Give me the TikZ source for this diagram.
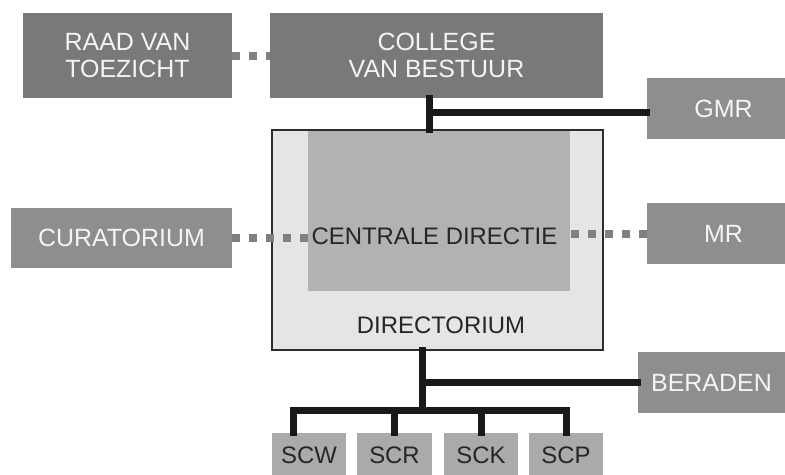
\documentclass[tikz,border=0pt]{standalone}
\usepackage{fontspec}
\setmainfont{Liberation Sans}
\definecolor{darkgrey}{RGB}{121,121,121}
\definecolor{midgrey}{RGB}{142,142,142}
\definecolor{palegrey}{RGB}{229,229,229}
\definecolor{innergrey}{RGB}{178,178,178}
\definecolor{subgrey}{RGB}{170,170,170}
\definecolor{dotgrey}{RGB}{128,128,128}
\definecolor{framegrey}{RGB}{45,45,45}
\definecolor{offwhite}{RGB}{244,244,244}
\usetikzlibrary{calc}

\begin{document}
\begin{tikzpicture}[
  x=0.02cm, y=-0.02cm,
  topbox/.style={
    fill=darkgrey, text=offwhite, inner sep=0pt,
    minimum height=1.7cm, align=center,
    font=\fontsize{14.2}{15.5}\selectfont
  },
  sidebox/.style={
    fill=midgrey, text=offwhite, inner sep=0pt,
    minimum height=1.22cm,
    font=\fontsize{14.2}{15.5}\selectfont
  },
  subbox/.style={
    fill=subgrey, text=black!85, inner sep=0pt,
    minimum width=1.49cm, minimum height=0.88cm,
    font=\fontsize{13.6}{15}\selectfont
  },
  darktext/.style={text=black!85, inner sep=0pt, font=\fontsize{13.6}{15}\selectfont},
  trunk/.style={line width=0.14cm, draw=black!90, line cap=rect, line join=miter},
  dotline/.style={line width=0.16cm, draw=dotgrey, dash pattern=on 0.16cm off 0.18cm}
]
\useasboundingbox (0,0) rectangle (785,474);
\clip (0,0) rectangle (785,474);

% top row
\node[topbox, minimum width=4.18cm] (raad) at (127.5,55.5) {RAAD VAN\\TOEZICHT};
\node[topbox, minimum width=6.66cm] (college) at (436.5,55.5) {COLLEGE\\VAN BESTUUR};

% right and left side
\node[sidebox, minimum width=3.06cm] (gmr) at (723.5,108.5) {GMR};
\node[sidebox, minimum width=3.06cm] (mr) at (723.5,233.5) {MR};
\node[sidebox, minimum width=4.42cm, minimum height=1.2cm] (curatorium) at (121.5,238) {CURATORIUM};
\node[sidebox, minimum width=2.94cm] (beraden) at (711.5,382.5) {BERADEN};

% directorium with centrale directie inside
\node[draw=framegrey, line width=0.8pt, fill=palegrey, minimum width=6.62cm, minimum height=4.4cm] (directorium) at (437.5,240) {};
\node[fill=innergrey, minimum width=5.24cm, minimum height=3.2cm, inner sep=0pt] (centrale) at (439,211) {};
\node[darktext] (centraletxt) at (434.5,236) {CENTRALE DIRECTIE};
\node[darktext] (directoriumtxt) at (441,325) {DIRECTORIUM};

% sections
\node[subbox] (scw) at (309,455) {SCW};
\node[subbox] (scr) at (394.5,455) {SCR};
\node[subbox] (sck) at (481,455) {SCK};
\node[subbox] (scp) at (566,455) {SCP};

% dotted links
\draw[dotline] (raad.east) -- (college.west);
\draw[dotline] (curatorium.east) -- (curatorium.east -| centrale.west);
\draw[dotline] (mr.west) -- (mr.west -| centrale.east);

% solid lines
\coordinate (topjoint) at (429,112);
\coordinate (midjoint) at (422,382);
\coordinate (busjoint) at (422,410);
\coordinate (busleft) at (293,410);
\draw[trunk] (topjoint |- college.south) -- (topjoint |- directorium.north);
\draw[trunk] (topjoint) -- (topjoint -| gmr.west);
\draw[trunk] (midjoint |- directorium.south) -- (busjoint);
\draw[trunk] (midjoint) -- (midjoint -| beraden.west);
\draw[trunk] (busleft |- scw.north) -- (busleft) -| (scp.north);
\draw[trunk] (scr.north) -- (scr.north |- busleft);
\draw[trunk] (sck.north) -- (sck.north |- busleft);
\end{tikzpicture}
\end{document}
